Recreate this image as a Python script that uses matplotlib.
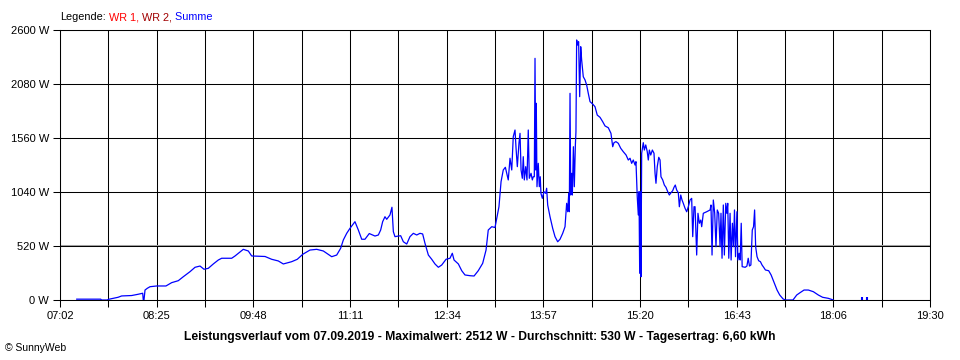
import matplotlib
matplotlib.use("Agg")
import matplotlib.pyplot as plt
import matplotlib.transforms as mtransforms
import numpy as np

# ---- data (minutes after midnight, watts) ----
minutes = [436.4, 457.0, 457.7, 463.3, 463.5, 467.6, 471.9, 475.0, 483.6, 489.1, 493.1, 493.6, 494.2,
           495.1, 497.1, 499.4, 505.1, 513.1, 518.0, 523.7, 528.0, 533.8, 538.1, 542.4, 545.8, 549.5,
           553.8, 558.1, 561.0, 569.6, 572.5, 579.6, 583.9, 586.8, 598.3, 604.0, 609.7, 614.0, 621.2,
           626.0, 630.7, 636.9, 642.7, 648.4, 655.6, 659.9, 663.3, 665.6, 668.5, 671.3, 675.6, 678.5,
           681.4, 684.2, 687.9, 692.8, 695.7, 697.7, 699.4, 701.4, 702.9, 705.7, 707.4, 708.6, 710.0,
           712.9, 714.9, 717.2, 720.1, 722.9, 725.8, 728.7, 731.5, 733.8, 735.8, 738.7, 741.6, 744.4,
           747.3, 750.2, 753.9, 757.3, 759.3, 760.8, 764.5, 767.4, 770.2, 774.5, 778.0, 781.6, 785.4,
           788.3, 790.2, 793.2, 796.0, 797.5, 799.4, 801.2, 803.1, 804.9, 806.1, 807.4, 808.9, 810.4,
           811.7, 813.2, 814.1, 815.2, 816.6, 817.5, 818.4, 819.5, 820.3, 821.2, 822.4, 823.5, 824.6,
           825.5, 827.0, 828.1, 828.9, 829.8, 830.4, 831.0, 831.5, 832.1, 833.2, 834.1, 834.9, 835.5,
           836.7, 838.1, 839.6, 840.4, 841.3, 843.3, 845.6, 847.6, 849.9, 851.9, 854.2, 856.2, 857.6,
           858.5, 859.4, 859.9, 860.5, 861.1, 862.0, 862.5, 863.4, 864.2, 865.1, 865.6, 866.2, 867.1,
           867.9, 868.8, 869.7, 870.5, 871.9, 873.4, 874.8, 876.2, 877.7, 880.0, 882.0, 883.9, 886.3,
           888.6, 890.6, 893.4, 895.7, 897.2, 898.3, 900.0, 902.0, 904.1, 906.3, 908.7, 910.6, 912.1,
           913.5, 914.9, 916.4, 917.2, 918.3, 919.2, 919.8, 920.4, 920.9, 921.5, 922.1, 923.5, 924.4,
           925.6, 926.9, 927.8, 928.7, 929.9, 931.3, 932.7, 933.6, 934.4, 935.5, 936.8, 937.9, 938.7,
           940.2, 941.6, 943.0, 944.5, 945.9, 947.3, 948.8, 949.9, 951.0, 952.2, 953.6, 954.5, 955.7,
           956.8, 957.9, 959.4, 960.8, 962.2, 963.7, 965.1, 966.0, 967.1, 968.0, 969.4, 970.5, 971.7,
           972.9, 973.7, 975.1, 978.0, 980.9, 981.7, 982.6, 983.7, 984.9, 986.0, 987.1, 988.3, 989.5,
           990.3, 991.2, 992.3, 993.2, 994.4, 995.3, 996.1, 997.0, 998.1, 999.0, 1000.1, 1001.0, 1001.9,
           1002.8, 1004.0, 1004.8, 1005.9, 1006.8, 1007.7, 1008.5, 1011.1, 1012.6, 1013.7, 1014.8,
           1016.0, 1017.2, 1018.3, 1019.2, 1020.1, 1021.3, 1022.7, 1024.2, 1025.6, 1027.0, 1028.5,
           1031.3, 1033.4, 1035.1, 1036.8, 1038.5, 1040.8, 1043.7, 1045.7, 1052.2, 1055.4, 1058.2,
           1061.7, 1065.4, 1069.7, 1074.0, 1077.7, 1082.6, 1086.9]
watts = [8, 8, 0, 0, 6, 16, 26, 39, 43, 55, 65, 0, 0,
         96, 113, 128, 135, 135, 167, 186, 224, 273, 315, 327, 296, 305,
         347, 385, 402, 402, 424, 488, 472, 424, 419, 392, 376, 347, 369,
         392, 440, 481, 488, 472, 417, 433, 498, 578, 642, 690, 754, 674,
         585, 585, 640, 616, 626, 674, 754, 802, 777, 819, 893, 658, 610,
         616, 619, 561, 539, 610, 642, 626, 642, 636, 546, 433, 392, 347,
         315, 337, 392, 402, 450, 385, 347, 282, 241, 234, 231, 282, 353,
         481, 674, 706, 698, 787, 898, 1139, 1252, 1278, 1220, 1156, 1365, 1252,
         1573, 1637, 1461, 1284, 1509, 1605, 1252, 1172, 1380, 1156, 1284, 1156, 1637,
         1172, 1220, 1156, 1187, 1187, 2327, 1252, 1894, 1091, 1316, 1091, 1187, 1027,
         979, 1043, 1027, 1076, 915, 802, 690, 610, 561, 585, 642, 706, 931,
         850, 1027, 850, 1990, 1011, 1220, 1011, 1476, 1091, 1493, 1621, 2504, 2455,
         2487, 1958, 2439, 2311, 2150, 2119, 2070, 1990, 1910, 1887, 1861, 1781, 1759,
         1717, 1676, 1659, 1605, 1476, 1515, 1525, 1509, 1461, 1428, 1396, 1348, 1365,
         1316, 1348, 1300, 1332, 995, 819, 1043, 257, 1043, 224, 1413, 1515, 1444,
         1493, 1428, 1348, 1444, 1396, 1444, 1413, 1220, 1124, 1284, 1374, 1348, 1187,
         1156, 1107, 1085, 1043, 1011, 1033, 1053, 1085, 1107, 1059, 1033, 898, 1011,
         963, 931, 883, 850, 898, 963, 979, 610, 898, 898, 433, 835, 739,
         770, 706, 835, 850, 867, 915, 433, 963, 835, 513, 867, 835, 513,
         835, 402, 915, 433, 931, 835, 931, 402, 835, 385, 739, 513, 867,
         417, 850, 385, 450, 385, 739, 321, 315, 327, 402, 327,
         337, 674, 706, 867, 513, 417, 378, 369, 337, 315, 289,
         282, 241, 193, 144, 96, 48, 10, 0, 0, 48, 70,
         96, 96, 80, 48, 26, 16, 0]
blip_minutes = [1111.3, 1115.6]
blip_watts = [25, 25]

x_start, x_end = 422, 1170
x_tick_labels = ["07:02", "08:25", "09:48", "11:11", "12:34",
                 "13:57", "15:20", "16:43", "18:06", "19:30"]
y_ticks = [0, 520, 1040, 1560, 2080, 2600]
y_tick_labels = ["0 W", "520 W", "1040 W", "1560 W", "2080 W", "2600 W"]
legend_parts = [("Legende:", "black"), (" WR 1,", "#ff0000"),
                (" WR 2,", "#a00000"), (" Summe", "#0000ff")]
title = ("Leistungsverlauf vom 07.09.2019 - Maximalwert: 2512 W - "
         "Durchschnitt: 530 W - Tagesertrag: 6,60 kWh")

plt.rcParams['font.family'] = ['Liberation Sans', 'DejaVu Sans']

fig = plt.figure(figsize=(9.6, 3.6), dpi=100)
fig.patch.set_facecolor("white")
ax = fig.add_axes([60/960, 60/360, 870/960, 270/360])

ax.plot(minutes, watts, color="#0000ff", lw=0.9, zorder=3)
ax.vlines(blip_minutes, 0, blip_watts, color="#0000ff", lw=1.5, zorder=3)

ax.set_xlim(x_start, x_end)
ax.set_ylim(0, 2600)
xt = np.linspace(x_start, x_end, 19)
ax.set_xticks(xt)
labels = []
for i in range(19):
    labels.append(x_tick_labels[i // 2] if i % 2 == 0 else "")
ax.set_xticklabels(labels, fontsize=8)
ax.set_yticks(y_ticks)
ax.set_yticklabels(y_tick_labels, fontsize=8)
ax.tick_params(axis="both", direction="out", length=5, width=0.75, color="black")
ax.tick_params(axis="x", pad=3)
ax.tick_params(axis="y", pad=3)
ax.grid(True, color="black", lw=0.75)
for g in ax.get_xgridlines() + ax.get_ygridlines():
    g.set_zorder(1.5)
for sp in ax.spines.values():
    sp.set_color("black")
    sp.set_linewidth(0.75)
    sp.set_zorder(4)

# grey highlight above the 520 W gridline
off = mtransforms.offset_copy(ax.get_yaxis_transform(), fig=fig, x=0, y=1.0, units="dots")
ax.plot([0, 1], [520, 520], transform=off, color="#a0a0a0", lw=0.75, zorder=1.6)

fig.text(480/960, 1 - 337/360, title, ha="center", va="center",
         fontsize=8.7, fontweight="bold")
fig.text(5/960, 1 - 348/360, "© SunnyWeb", ha="left", va="center", fontsize=7.5)

fig.canvas.draw()
r = fig.canvas.get_renderer()
xpos = 60 / 960
for s, c in legend_parts:
    t = fig.text(xpos, 1 - 17/360, s, color=c, ha="left", va="center", fontsize=7.8)
    bb = t.get_window_extent(r)
    xpos = bb.x1 / fig.bbox.width

fig.savefig("out.png", dpi=100, facecolor="white")
